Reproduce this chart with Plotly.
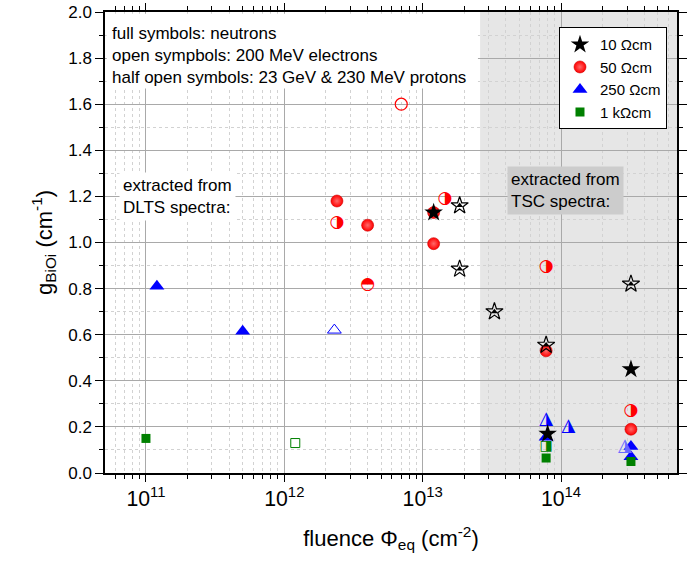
import math
import plotly.graph_objects as go

# ---------------- data ----------------
# 10 Ohm cm (stars)
star_n_x = [1.2e13, 8e13, 3.2e14]
star_n_y = [1.13, 0.17, 0.45]
star_p_x = [1.85e13, 1.85e13, 3.3e13, 7.8e13, 3.2e14]
star_p_y = [1.16, 0.885, 0.70, 0.555, 0.82]

# 50 Ohm cm (circles)
circ_n_x = [2.4e12, 4e12, 1.2e13, 1.2e13, 7.8e13, 3.2e14]
circ_n_y = [1.18, 1.075, 0.995, 1.13, 0.53, 0.19]
circ_e_x = [7e12]
circ_e_y = [1.60]
circ_p_x = [2.4e12, 1.45e13, 7.8e13, 3.2e14]
circ_p_y = [1.085, 1.19, 0.895, 0.27]
circ_p2_x = [4e12]
circ_p2_y = [0.815]

# 250 Ohm cm (triangles)
tri_n_x = [1.2e11, 5e11, 7.8e13, 3.2e14, 3.2e14]
tri_n_y = [0.81, 0.615, 0.155, 0.115, 0.07]
tri_e_x = [2.3e12]
tri_e_y = [0.62]
tri_p_x = [7.8e13, 1.13e14]
tri_p_y = [0.23, 0.20]
tri_p2_x = [2.9e14]
tri_p2_y = [0.115]

# 1 kOhm cm (squares)
sq_n_x = [1e11, 7.8e13, 3.2e14]
sq_n_y = [0.15, 0.065, 0.05]
sq_e_x = [1.2e12]
sq_e_y = [0.13]
sq_p_x = [7.8e13]
sq_p_y = [0.115]

legend_names = ["10 \u03a9cm", "50 \u03a9cm", "250 \u03a9cm", "1 k\u03a9cm"]

x_range_log = [10.704, 14.838]
tsc_start = 2.6e13

RED = "#ff0000"
BLUE = "#0000ff"
GREEN = "#008000"
FONT = "Liberation Sans, Arial, sans-serif"
GLYPH_FONT = "DejaVu Sans"

BALL = dict(symbol="circle", size=12, color=RED,
            gradient=dict(type="radial", color="#ff6a6a"),
            line=dict(color="#d00000", width=0.6))

fig = go.Figure()

# --- circles ---
fig.add_trace(go.Scatter(x=circ_n_x, y=circ_n_y, mode="markers", showlegend=False, marker=BALL))
fig.add_trace(go.Scatter(x=circ_e_x, y=circ_e_y, mode="markers", showlegend=False,
                         marker=dict(symbol="circle-open", size=12, color=RED,
                                     line=dict(color=RED, width=1.2))))
fig.add_trace(go.Scatter(x=circ_p_x, y=circ_p_y, mode="text", showlegend=False,
                         text=["\u25d1"] * len(circ_p_x), textposition="middle center",
                         textfont=dict(family=GLYPH_FONT, size=17, color=RED)))
fig.add_trace(go.Scatter(x=circ_p2_x, y=circ_p2_y, mode="text", showlegend=False,
                         text=["\u25d3"] * len(circ_p2_x), textposition="middle center",
                         textfont=dict(family=GLYPH_FONT, size=17, color=RED)))

# --- triangles ---
fig.add_trace(go.Scatter(x=tri_n_x, y=tri_n_y, mode="markers", showlegend=False,
                         marker=dict(symbol="triangle-up", size=13, color=BLUE,
                                     line=dict(width=0))))
fig.add_trace(go.Scatter(x=tri_e_x, y=tri_e_y, mode="markers", showlegend=False,
                         marker=dict(symbol="triangle-up-open", size=12, color=BLUE,
                                     line=dict(color=BLUE, width=1.0))))
fig.add_trace(go.Scatter(x=tri_p_x, y=tri_p_y, mode="text", showlegend=False,
                         text=["\u25ee"] * len(tri_p_x), textposition="middle center",
                         textfont=dict(family=GLYPH_FONT, size=18, color=BLUE)))
fig.add_trace(go.Scatter(x=tri_p2_x, y=tri_p2_y, mode="text", showlegend=False,
                         text=["\u25ee"] * len(tri_p2_x), textposition="middle center",
                         textfont=dict(family=GLYPH_FONT, size=18, color="#6a6aff")))

# --- squares ---
fig.add_trace(go.Scatter(x=sq_n_x, y=sq_n_y, mode="markers", showlegend=False,
                         marker=dict(symbol="square", size=9, color=GREEN, line=dict(width=0))))
fig.add_trace(go.Scatter(x=sq_e_x, y=sq_e_y, mode="markers", showlegend=False,
                         marker=dict(symbol="square-open", size=9, color=GREEN,
                                     line=dict(color=GREEN, width=1.0))))
fig.add_trace(go.Scatter(x=sq_p_x, y=sq_p_y, mode="text", showlegend=False,
                         text=["\u25e8"] * len(sq_p_x), textposition="middle center",
                         textfont=dict(family=GLYPH_FONT, size=14, color=GREEN)))

# --- stars ---
fig.add_trace(go.Scatter(x=star_p_x, y=star_p_y, mode="markers", showlegend=False,
                         marker=dict(symbol="star-open", size=13, color="black",
                                     line=dict(color="black", width=1.2))))
fig.add_trace(go.Scatter(x=star_p_x, y=star_p_y, mode="markers", showlegend=False,
                         marker=dict(symbol="triangle-up", size=6, color="black", line=dict(width=0))))
fig.add_trace(go.Scatter(x=star_n_x, y=star_n_y, mode="markers", showlegend=False,
                         marker=dict(symbol="star", size=14, color="black", line=dict(width=0))))

# --- legend entries ---
leg_markers = [
    dict(symbol="star", size=14, color="black", line=dict(width=0)),
    BALL,
    dict(symbol="triangle-up", size=13, color=BLUE, line=dict(width=0)),
    dict(symbol="square", size=9, color=GREEN, line=dict(width=0)),
]
for name, mk in zip(legend_names, leg_markers):
    fig.add_trace(go.Scatter(x=[None], y=[None], mode="markers", name=name, marker=mk))

# --- shaded TSC region ---
x0p = (math.log10(tsc_start) - x_range_log[0]) / (x_range_log[1] - x_range_log[0])
fig.add_shape(type="rect", xref="paper", yref="paper", x0=x0p, x1=1, y0=0, y1=1,
              fillcolor="#e6e6e6", line=dict(width=0), layer="below")
# white box behind the top-left text
fig.add_shape(type="rect", xref="paper", yref="paper", x0=0.003, x1=0.652, y0=0.834, y1=0.996,
              fillcolor="white", line=dict(width=0), layer="above")

top_lines = ["full symbols: neutrons",
             "open sympbols: 200 MeV electrons",
             "half open symbols: 23 GeV &amp; 230 MeV protons"]
for i, t in enumerate(top_lines):
    fig.add_annotation(xref="paper", yref="paper", x=0.008, y=0.954 - i * 0.0477,
                       xanchor="left", yanchor="middle", text=t, showarrow=False,
                       font=dict(family=FONT, size=17, color="black"))

fig.add_annotation(xref="paper", yref="paper", x=0.024, y=0.600, xanchor="left", yanchor="middle",
                   text="extracted from<br>DLTS spectra:", showarrow=False, align="left",
                   bgcolor="white", borderpad=3,
                   font=dict(family=FONT, size=17, color="black"))
fig.add_annotation(xref="paper", yref="paper", x=0.7025, y=0.612, xanchor="left", yanchor="middle",
                   text="extracted from<br>TSC spectra:", showarrow=False, align="left",
                   bgcolor="#cccccc", borderpad=3,
                   font=dict(family=FONT, size=17, color="black"))

fig.update_layout(
    width=694, height=561,
    margin=dict(l=105, r=17, t=12, b=88, autoexpand=False),
    paper_bgcolor="white", plot_bgcolor="white",
    font=dict(family=FONT, size=16, color="black"),
    legend=dict(x=0.9825, y=0.967, xanchor="right", yanchor="top",
                bgcolor="white", bordercolor="black", borderwidth=1,
                font=dict(family=FONT, size=15), itemsizing="trace",
                tracegroupgap=0),
    xaxis=dict(type="log", range=x_range_log, dtick=1, exponentformat="power",
               showexponent="all", automargin=False, ticklabeloverflow="allow",
               showline=True, linecolor="black", linewidth=1.5, mirror="ticks",
               ticks="outside", ticklen=7, tickwidth=1.2, tickcolor="black",
               showgrid=True, gridcolor="#a9a9a9", gridwidth=1,
               zeroline=False,
               tickfont=dict(family=FONT, size=17),
               minor=dict(dtick="D1", ticks="outside", ticklen=4, tickcolor="black",
                          showgrid=True, gridcolor="#d2d2d2", griddash="dot", gridwidth=1),
               title=dict(text="fluence \u03a6<sub>eq</sub> (cm<sup>-2</sup>)",
                          font=dict(family=FONT, size=22), standoff=20)),
    yaxis=dict(range=[0, 2.0], dtick=0.2, tickformat=".1f", automargin=False,
               ticklabeloverflow="allow",
               showline=True, linecolor="black", linewidth=1.5, mirror="ticks",
               ticks="outside", ticklen=8, tickwidth=1.2, tickcolor="black",
               showgrid=True, gridcolor="#a9a9a9", gridwidth=1,
               zeroline=False,
               tickfont=dict(family=FONT, size=17),
               minor=dict(dtick=0.1, ticks="outside", ticklen=4, tickcolor="black",
                          showgrid=True, gridcolor="#d2d2d2", griddash="dot", gridwidth=1),
               title=dict(text="g<sub>BiOi</sub> (cm<sup>-1</sup>)",
                          font=dict(family=FONT, size=22), standoff=10)),
)

# remove the default 8 px page margin so the figure sits at the window's corner
fig.write_html("out.html", config={"displayModeBar": False},
               post_script="document.body.style.margin='0';")
